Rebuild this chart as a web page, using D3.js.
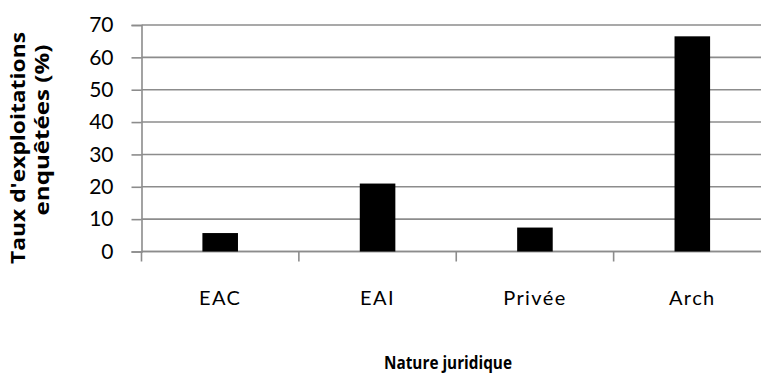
<!DOCTYPE html>
<html>
<head>
<meta charset="utf-8">
<script src="https://cdn.jsdelivr.net/npm/d3@7"></script>
<style>
  html, body { margin: 0; padding: 0; background: #fff; }
  svg { display: block; }
  text { font-family: Lato, "Open Sans", sans-serif; fill: #000; }
  text.title { font-family: "Open Sans", Lato, sans-serif; font-weight: bold; }
</style>
</head>
<body>
<svg id="chart" width="761" height="374"></svg>
<script>
// Share of surveyed farms by legal status
const categories = ["EAC", "EAI", "Privée", "Arch"];
const values = [5.7, 21.0, 7.4, 66.5];
const yTicks = [0, 10, 20, 30, 40, 50, 60, 70];
const yTitleLines = ["Taux d'exploitations", "enquêtées (%)"];
const xTitle = "Nature juridique";

const svg = d3.select("#chart");
const plotLeft = 141.5, plotRight = 771, plotTop = 25, plotBottom = 251.5;

const x = d3.scaleBand().domain(categories).range([plotLeft, plotRight]).paddingInner(0.774).paddingOuter(0.387);
const y = d3.scaleLinear().domain([0, 70]).range([plotBottom, plotTop]);

const grid = "#8c8c8c";

// horizontal gridlines
svg.append("g").selectAll("line").data(yTicks).join("line")
  .attr("x1", plotLeft).attr("x2", plotRight)
  .attr("y1", d => y(d)).attr("y2", d => y(d))
  .attr("stroke", grid).attr("stroke-width", 1.6);

// y axis
const yAxis = svg.append("g").attr("transform", `translate(${plotLeft},0)`)
  .call(d3.axisLeft(y).tickValues(yTicks).tickSize(10).tickPadding(18));
yAxis.select(".domain").attr("stroke", grid).attr("stroke-width", 1.6);
yAxis.selectAll(".tick line").attr("stroke", grid).attr("stroke-width", 1.6);
yAxis.selectAll(".tick text").style("font-size", "21px").attr("fill", "#000");

// x axis with category boundary ticks
const xAxis = svg.append("g").attr("transform", `translate(0,${plotBottom})`);
xAxis.append("line").attr("x1", plotLeft).attr("x2", plotRight).attr("stroke", grid).attr("stroke-width", 1.6);
const step = x.step();
xAxis.selectAll(".bt").data(d3.range(categories.length + 1)).join("line")
  .attr("class", "bt")
  .attr("x1", i => plotLeft + i * step).attr("x2", i => plotLeft + i * step)
  .attr("y1", 0).attr("y2", 10)
  .attr("stroke", grid).attr("stroke-width", 1.6);
xAxis.selectAll(".lbl").data(categories).join("text")
  .attr("class", "lbl")
  .attr("x", d => x(d) + x.bandwidth() / 2)
  .attr("y", 53)
  .attr("text-anchor", "middle")
  .style("font-size", "20px")
  .style("letter-spacing", "1.4px")
  .text(d => d);

// bars
svg.append("g").selectAll("rect").data(values).join("rect")
  .attr("x", (d, i) => x(categories[i]))
  .attr("y", d => y(d))
  .attr("width", x.bandwidth())
  .attr("height", d => y(0) - y(d))
  .attr("fill", "#000");

// axis titles
svg.append("text")
  .attr("class", "title")
  .attr("x", 448).attr("y", 369)
  .attr("text-anchor", "middle")
  .attr("textLength", 128)
  .attr("lengthAdjust", "spacingAndGlyphs")
  .style("font-size", "18px")
  .text(xTitle);

const yTitlePos = [
  { cx: 25, cy: 148, len: 232 },
  { cx: 49, cy: 130, len: 171 }
];
svg.append("g").selectAll("text").data(yTitleLines).join("text")
  .attr("class", "title")
  .attr("transform", (d, i) => `translate(${yTitlePos[i].cx},${yTitlePos[i].cy}) rotate(-90)`)
  .attr("text-anchor", "middle")
  .attr("textLength", (d, i) => yTitlePos[i].len)
  .attr("lengthAdjust", "spacingAndGlyphs")
  .style("font-size", "19px")
  .text(d => d);
</script>
</body>
</html>
